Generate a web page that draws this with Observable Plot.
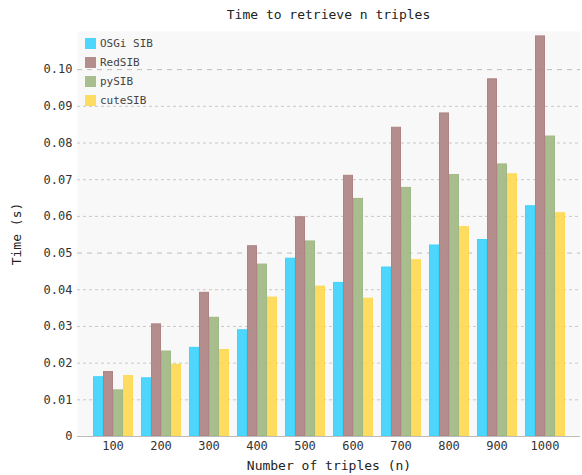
<!DOCTYPE html>
<html><head><meta charset="utf-8">
<script src="https://cdn.jsdelivr.net/npm/d3@7"></script>
<script src="https://cdn.jsdelivr.net/npm/@observablehq/plot@0.6"></script>
<style>
body{margin:0;background:#fff;font-family:"DejaVu Sans Mono",monospace;}
#wrap{position:relative;width:582px;height:475px;overflow:hidden;}
#title{position:absolute;left:77px;width:503px;top:7px;text-align:center;font-size:13px;color:#222;}
.layer{position:absolute;left:0;top:24px;}
#legend{position:absolute;left:85px;top:34px;font-size:11px;color:#444;}
.row{display:flex;align-items:center;height:19px;}
.sw{width:11px;height:11px;margin-right:4px;}
g[aria-label="fx-axis label"] text, g[aria-label="y-axis label"] text{font-size:13px;fill:#222;}
</style></head><body>
<div id="wrap"><div id="title">Time to retrieve n triples</div><div id="back" class="layer"></div><div id="front" class="layer"></div><div id="legend"></div></div>
<script>
const sizes = [100, 200, 300, 400, 500, 600, 700, 800, 900, 1000];
const series = ["OSGi SIB", "RedSIB", "pySIB", "cuteSIB"];
const colors = ["#40d3fd", "#ae8383", "#a2b884", "#fed955"];
const osgi = [0.0163, 0.0160, 0.0243, 0.0291, 0.0486, 0.0420, 0.0462, 0.0522, 0.0537, 0.0629];
const red  = [0.0177, 0.0307, 0.0393, 0.0520, 0.0599, 0.0712, 0.0843, 0.0882, 0.0975, 0.1092];
const py   = [0.0127, 0.0233, 0.0325, 0.0470, 0.0533, 0.0649, 0.0679, 0.0714, 0.0743, 0.0819];
const cute = [0.0166, 0.0197, 0.0237, 0.0380, 0.0410, 0.0377, 0.0482, 0.0572, 0.0716, 0.0610];
const yTicks = [0, 0.01, 0.02, 0.03, 0.04, 0.05, 0.06, 0.07, 0.08, 0.09, 0.10];
const majorTicks = [0.05, 0.10];
const yDomain = [0, 0.1104];

const valuesBySeries = [osgi, red, py, cute];
const rows = [];
sizes.forEach((n, i) => series.forEach((s, j) => rows.push({n, series: s, value: valuesBySeries[j][i]})));
const minorTicks = yTicks.filter(t => t > 0 && !majorTicks.includes(t));

const common = {
  width: 582, height: 451,
  marginTop: 7, marginBottom: 39, marginLeft: 77, marginRight: 2,
  style: {fontFamily: '"DejaVu Sans Mono", monospace', fontSize: "12px", color: "#333", background: "transparent"}
};

// back layer: background, grid, baseline, y axis
const back = Plot.plot({
  ...common,
  y: {domain: yDomain},
  marks: [
    Plot.frame({fill: "#f8f8f8", stroke: null}),
    Plot.ruleY(minorTicks, {stroke: "#c8c8c8", strokeDasharray: "3,3"}),
    Plot.ruleY(majorTicks, {stroke: "#bcbcbc", strokeDasharray: "5,5"}),
    Plot.ruleY([0], {stroke: "#bdbdbd"}),
    Plot.axisY({ticks: yTicks, tickFormat: d => d === 0 ? "0" : d.toFixed(2), tickSize: 0, tickPadding: 5,
      label: "Time (s)", labelAnchor: "center", labelOffset: 66, labelArrow: "none"})
  ]
});
document.getElementById("back").appendChild(back);

// front layer: grouped bars + x axis
const front = Plot.plot({
  ...common,
  fx: {domain: sizes, paddingInner: 0.14, paddingOuter: 0.22},
  x: {domain: series, padding: 0, axis: null},
  y: {domain: yDomain, axis: null},
  color: {domain: series, range: colors},
  marks: [
    Plot.barY(rows, {fx: "n", x: "series", y: "value", fill: "series", fillOpacity: 0.92,
      stroke: "series", strokeWidth: 1, inset: 0.5}),
    Plot.axisFx({anchor: "bottom", tickSize: 0, tickPadding: 5, tickFormat: d => String(d),
      label: "Number of triples (n)", labelAnchor: "center", labelOffset: 33, labelArrow: "none"})
  ]
});
document.getElementById("front").appendChild(front);

const legend = document.getElementById("legend");
series.forEach((s, i) => {
  const row = document.createElement("div");
  row.className = "row";
  const sw = document.createElement("div");
  sw.className = "sw";
  sw.style.background = colors[i];
  sw.style.opacity = 0.92;
  const label = document.createElement("span");
  label.textContent = s;
  row.appendChild(sw); row.appendChild(label);
  legend.appendChild(row);
});
</script>
</body></html>
